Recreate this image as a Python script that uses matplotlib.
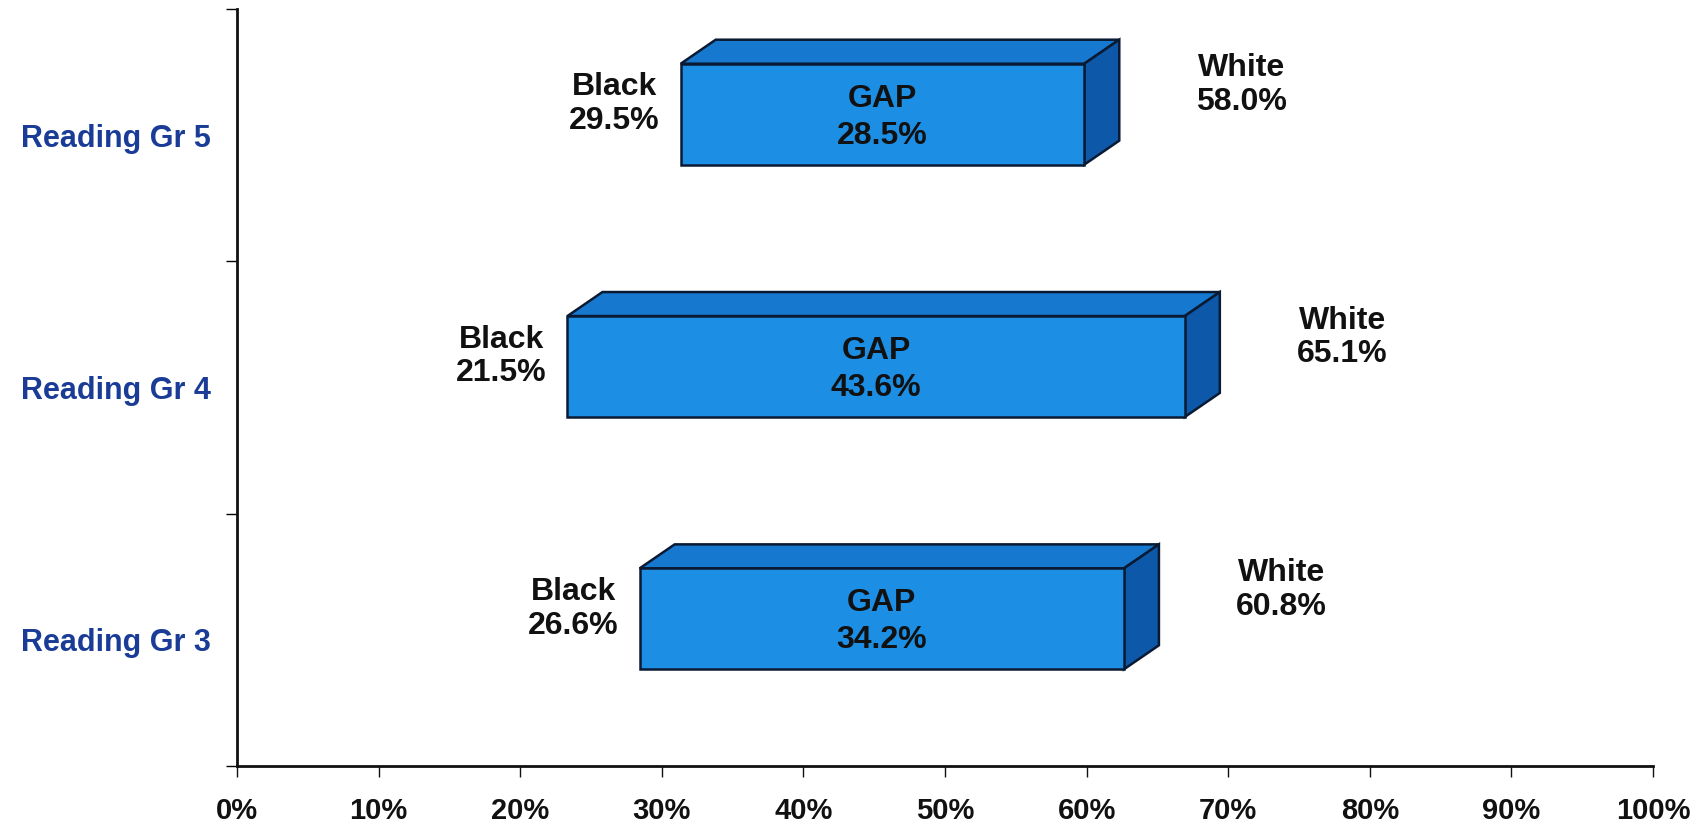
import matplotlib
matplotlib.use("Agg")
import matplotlib.pyplot as plt
from matplotlib.patches import Polygon
from matplotlib.transforms import ScaledTranslation, IdentityTransform

categories = ["Reading Gr 3", "Reading Gr 4", "Reading Gr 5"]
black_vals = [26.6, 21.5, 29.5]
white_vals = [60.8, 65.1, 58.0]
gap_vals = [34.2, 43.6, 28.5]
xtick_vals = list(range(0, 101, 10))
xtick_labels = [f"{v}%" for v in xtick_vals]

FRONT = "#1c8ee4"
TOP = "#1679cf"
SIDE = "#0d58a8"
EDGE = "#0a1a33"
CAT_COLOR = "#1a3c96"
FONT2 = ["Liberation Sans", "DejaVu Sans"]

DPI = 100
fig = plt.figure(figsize=(17.07, 8.25), dpi=DPI)
ax = fig.add_axes([237 / 1707, 1 - 766 / 825, (1653 - 237) / 1707, (766 - 9) / 825])

ax.set_xlim(0, 100)
ax.set_ylim(-0.5, 2.5)
ax.autoscale(False)

for s in ["top", "right"]:
    ax.spines[s].set_visible(False)
for s in ["left", "bottom"]:
    ax.spines[s].set_linewidth(2)
    ax.spines[s].set_color("#111111")

ax.set_xticks(xtick_vals)
ax.set_xticklabels(xtick_labels, fontsize=21, fontweight="bold", family=FONT2)
ax.tick_params(axis="x", length=8, width=1, pad=14, colors="#111111")
ax.set_yticks([-0.5, 0.5, 1.5, 2.5])
ax.set_yticklabels([])
ax.tick_params(axis="y", which="major", length=8, width=1)
ax.set_yticks([0, 1, 2], minor=True)
ax.set_yticklabels(categories, minor=True, fontsize=22, fontweight="bold",
                   color=CAT_COLOR, family=FONT2)
ax.tick_params(axis="y", which="minor", length=0, pad=19)

# 3D effect offsets (pixels)
sx, sy = 26, 21
dx, dy = 35, 24
h = 0.4
ypos = list(range(len(categories)))

shift = ax.transData + ScaledTranslation(sx / DPI, sy / DPI, fig.dpi_scale_trans)
ax.barh(ypos, gap_vals, left=black_vals, height=h, color=FRONT, edgecolor=EDGE,
        linewidth=1.8, transform=shift, zorder=5, clip_on=False)

fig.canvas.draw()
td = ax.transData
for y, b, w in zip(ypos, black_vals, white_vals):
    (X0, Y0) = td.transform((b, y - h / 2))
    (X1, Y1) = td.transform((w, y + h / 2))
    X0 += sx; X1 += sx; Y0 += sy; Y1 += sy
    top = Polygon([(X0, Y1), (X1, Y1), (X1 + dx, Y1 + dy), (X0 + dx, Y1 + dy)],
                  closed=True, facecolor=TOP, edgecolor=EDGE, linewidth=1.8,
                  transform=IdentityTransform(), zorder=4, clip_on=False)
    side = Polygon([(X1, Y0), (X1 + dx, Y0 + dy), (X1 + dx, Y1 + dy), (X1, Y1)],
                   closed=True, facecolor=SIDE, edgecolor=EDGE, linewidth=1.8,
                   transform=IdentityTransform(), zorder=4, clip_on=False)
    ax.add_patch(top)
    ax.add_patch(side)

for y, b, w, g in zip(ypos, black_vals, white_vals, gap_vals):
    ax.annotate(f"Black\n{b:.1f}%", xy=(b, y), xytext=(5, 31), textcoords="offset pixels",
                ha="right", va="center", multialignment="center", linespacing=1.15,
                fontsize=23, fontweight="bold", family=FONT2, color="#111111", zorder=6)
    ax.annotate(f"White\n{w:.1f}%", xy=(w, y), xytext=(138, 50), textcoords="offset pixels",
                ha="left", va="center", multialignment="center", linespacing=1.15,
                fontsize=23, fontweight="bold", family=FONT2, color="#111111", zorder=6)
    ax.annotate(f"GAP\n{g:.1f}%", xy=((b + w) / 2, y), xytext=(sx, sy - 3), textcoords="offset pixels",
                ha="center", va="center", multialignment="center", linespacing=1.3,
                fontsize=23, fontweight="bold", family=FONT2, color="#111111", zorder=6)

fig.savefig("out.png", dpi=DPI)
